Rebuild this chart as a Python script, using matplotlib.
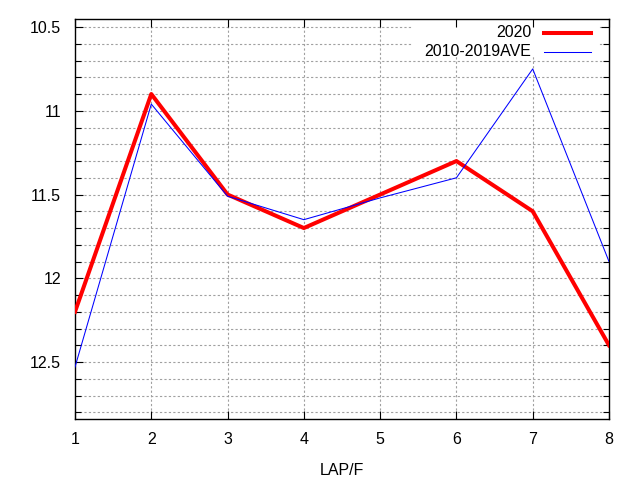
import matplotlib as mpl
import matplotlib.pyplot as plt
import numpy as np
from matplotlib.lines import Line2D
from matplotlib.patches import Rectangle
from matplotlib.ticker import MultipleLocator

mpl.use("Agg")
plt.rcParams["font.family"] = ["Liberation Sans", "DejaVu Sans"]
plt.rcParams["font.size"] = 11.5

laps = [1, 2, 3, 4, 5, 6, 7, 8]
y2020 = [12.2, 10.9, 11.5, 11.7, 11.5, 11.3, 11.6, 12.4]
y_ave = [12.53, 10.96, 11.51, 11.65, 11.52, 11.40, 10.75, 11.90]
labels = ["2020", "2010-2019AVE"]

fig = plt.figure(figsize=(6.4, 4.8), dpi=100)
ax = fig.add_axes([75 / 640, 61 / 480, 534 / 640, 400 / 480])

ax.plot(laps, y2020, color="red", lw=2.9, zorder=3)
ax.plot(laps, y_ave, color="blue", lw=0.75, zorder=4)

ax.set_xlim(1, 8)
ax.set_ylim(12.84, 10.452)
ax.xaxis.set_major_locator(MultipleLocator(1))
ax.yaxis.set_major_locator(MultipleLocator(0.5))
ax.yaxis.set_minor_locator(MultipleLocator(0.1))
ax.yaxis.set_major_formatter(mpl.ticker.FuncFormatter(lambda v, p: f"{v:g}"))

ax.tick_params(which="both", direction="in", top=True, right=True, width=0.8)
ax.tick_params(which="major", length=6, pad=9)
ax.tick_params(axis="y", which="major", pad=10)
ax.tick_params(which="minor", length=4)

# grid drawn by hand so the key box can sit between grid and ticks
grid_kw = dict(color="#a0a0a0", ls=(0, (2, 2)), lw=0.8, zorder=0.8)
for xv in laps[1:-1]:
    ax.axvline(xv, **grid_kw)
for yv in np.arange(10.5, 12.85, 0.1):
    ax.axhline(yv, **grid_kw)
for s in ax.spines.values():
    s.set_linewidth(1.0)

ax.set_xlabel("LAP/F", labelpad=12)

# gnuplot-style key: opaque box, right-aligned text, sample on the right
ax.add_patch(Rectangle((0.633, 0.905), 0.346, 0.095, transform=ax.transAxes,
                       facecolor="white", edgecolor="none", zorder=1))
rows = [0.966, 0.918]
styles = [("red", 2.9), ("blue", 0.75)]
for lab, yy, (c, w) in zip(labels, rows, styles):
    ax.text(0.854, yy, lab, transform=ax.transAxes, ha="right", va="center",
            zorder=6)
    ax.add_line(Line2D([0.878, 0.966], [yy, yy], transform=ax.transAxes,
                       color=c, lw=w, zorder=6))

fig.savefig("out.png", dpi=100)
